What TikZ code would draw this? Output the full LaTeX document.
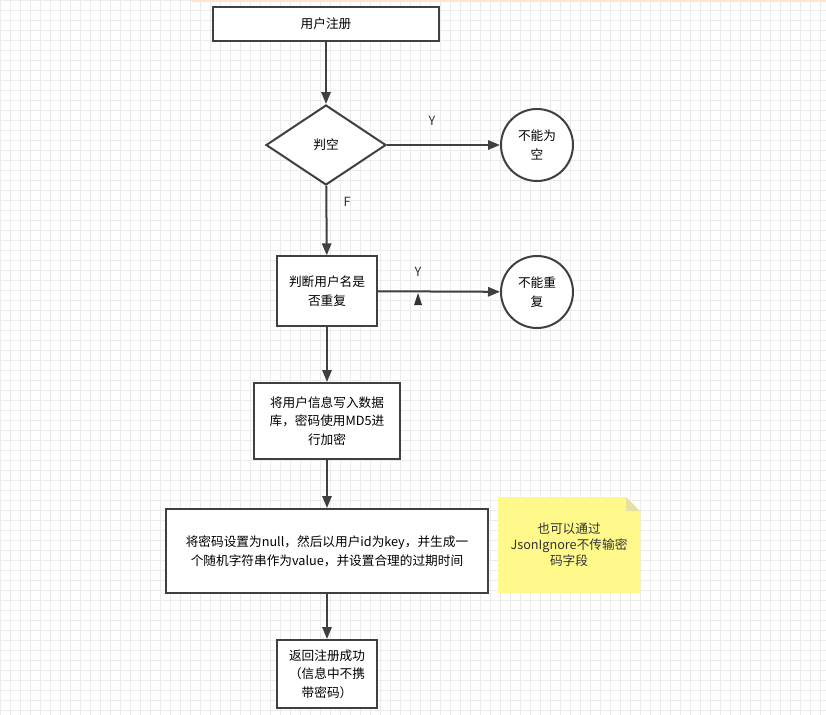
\documentclass[tikz,border=0pt]{standalone}
\usepackage{fontspec}
\setmainfont{Noto Sans CJK SC}
\usetikzlibrary{shapes.geometric,arrows.meta}
\tikzset{
 box/.style={draw=black!75,line width=1.5pt,fill=white,align=center,font=\fontsize{9.5}{14}\selectfont},
 flow/.style={draw=black!75,line width=1.5pt,-{Triangle[length=9pt,width=7pt]}},
 lbl/.style={font=\fontsize{9.5}{12}\selectfont,text=black!80}
}
\begin{document}
\begin{tikzpicture}[x=0.75pt,y=-0.75pt]
 \useasboundingbox (0,0) rectangle (826,715);
 \fill[white](0,0) rectangle (826,715);
 \draw [step=7.5pt,black!8,very thin](0,0) grid (826,715);
 \draw [orange!20,line width=1pt](190,1)--(826,1);
 % nodes
 \node[box,minimum width=170pt,minimum height=25pt] (reg) at (326,24) {用户注册};
 \node[box,diamond,aspect=1.5,minimum width=90pt,minimum height=60pt,inner sep=0pt] (empty) at (326,145) {判空};
 \node[box,circle,minimum size=54pt,inner sep=0pt] (noempty) at (537,145) {不能为\\空};
 \node[box,minimum width=75pt,minimum height=52pt] (dup) at (327,291) {判断用户名是\\否重复};
 \node[box,circle,minimum size=54pt,inner sep=0pt] (nodup) at (537,292) {不能重\\复};
 \node[box,minimum width=110pt,minimum height=57pt] (save) at (327,421) {将用户信息写入数据\\库，密码使用MD5进\\行加密};
 \node[box,minimum width=241pt,minimum height=63pt] (token) at (327,551) {将密码设置为null，然后以用户id为key，并生成一\\个随机字符串作为value，并设置合理的过期时间};
 \node[box,minimum width=75pt,minimum height=51pt] (done) at (327,674) {返回注册成功\\（信息中不携\\带密码）};
 % note
 \fill[yellow!45] (498,497)--(626,497)--(640,511)--(640,593)--(498,593)--cycle;
 \fill[yellow!70!black!40] (626,497)--(626,511)--(640,511)--cycle;
 \node[lbl,align=center] (note) at (569,545) {也可以通过\\JsonIgnore不传输密\\码字段};
 % connectors
 \draw[flow] (reg)--(empty);
 \draw[flow] (empty)--(noempty);
 \draw[flow] (empty)--(dup);
 \draw[flow] (dup)--(nodup);
 \draw[flow] (dup)--(save);
 \draw[flow] (save)--(token);
 \draw[flow] (token)--(done);
 \coordinate (tip) at (418,293);
 \fill[black!80] (tip)--(414,305)--(422,305)--cycle;
 \node[lbl] (y1) at (432,121) {Y};
 \node[lbl] (f1) at (347,202) {F};
 \node[lbl] (y2) at (418,272) {Y};
\end{tikzpicture}
\end{document}
